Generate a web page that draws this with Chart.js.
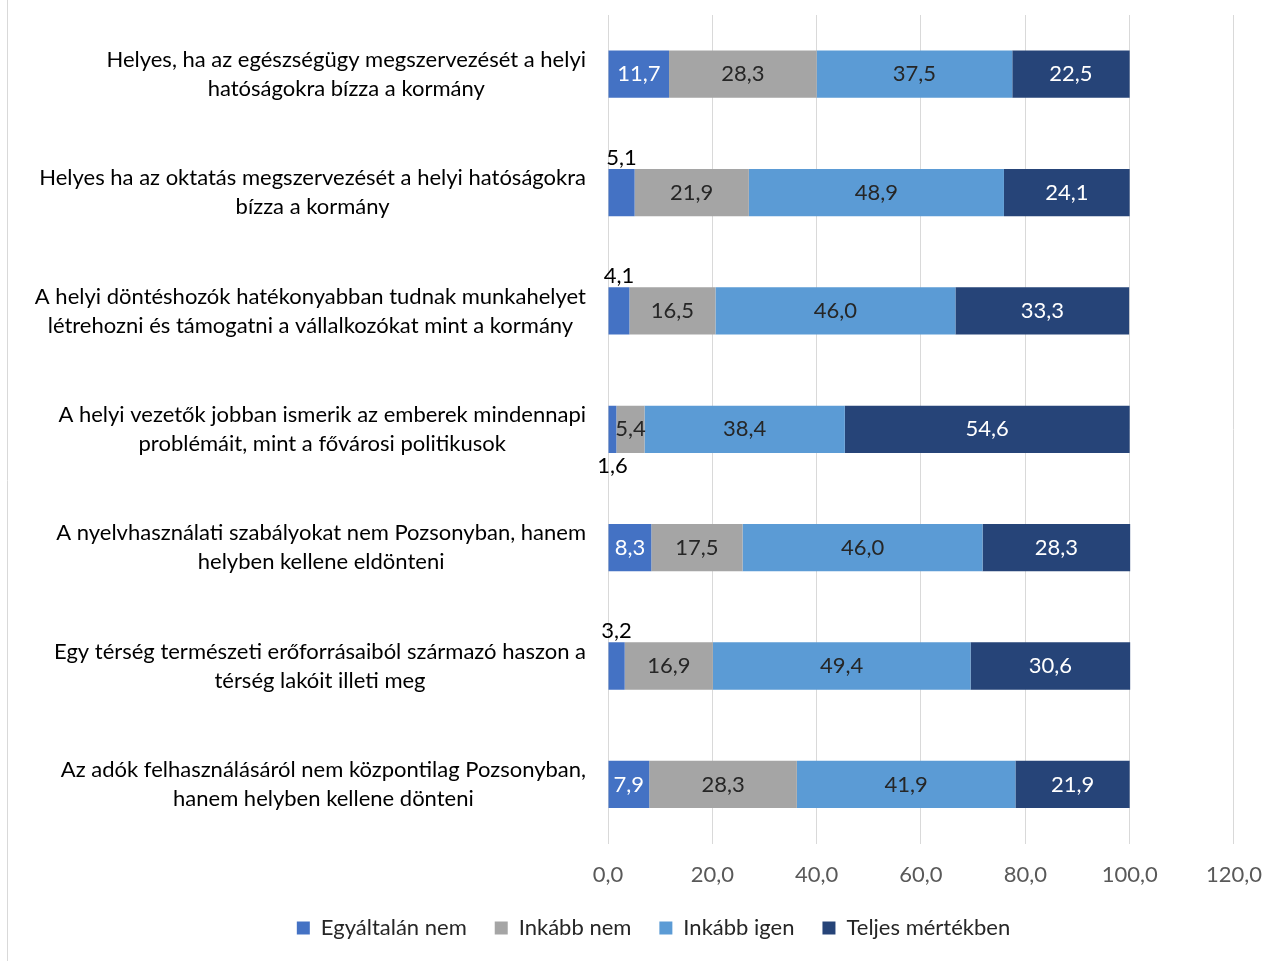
<!DOCTYPE html>
<html>
<head>
<meta charset="utf-8">
<script src="https://cdn.jsdelivr.net/npm/chart.js@4"></script>
<style>
  html, body { margin: 0; padding: 0; background: #fff; }
  #wrap { width: 1280px; height: 961px; position: relative; }
</style>
</head>
<body>
<div id="wrap"><canvas id="chart"></canvas></div>
<script>
// categories (each one split into its display lines)
const categories = [
  ["Helyes, ha az egészségügy megszervezését a helyi", "hatóságokra bízza a kormány"],
  ["Helyes ha az oktatás megszervezését a helyi hatóságokra", "bízza a kormány"],
  ["A helyi döntéshozók hatékonyabban tudnak munkahelyet", "létrehozni és támogatni a vállalkozókat mint a kormány"],
  ["A helyi vezetők jobban ismerik az emberek mindennapi", "problémáit, mint a fővárosi politikusok"],
  ["A nyelvhasználati szabályokat nem Pozsonyban, hanem", "helyben kellene eldönteni"],
  ["Egy térség természeti erőforrásaiból származó haszon a", "térség lakóit illeti meg"],
  ["Az adók felhasználásáról nem központilag Pozsonyban,", "hanem helyben kellene dönteni"]
]

const seriesNames = ["Egyáltalán nem", "Inkább nem", "Inkább igen", "Teljes mértékben"]
const egyaltalanNem = [11.7, 5.1, 4.1, 1.6, 8.3, 3.2, 7.9]
const inkabbNem = [28.3, 21.9, 16.5, 5.4, 17.5, 16.9, 28.3]
const inkabbIgen = [37.5, 48.9, 46.0, 38.4, 46.0, 49.4, 41.9]
const teljesen = [22.5, 24.1, 33.3, 54.6, 28.3, 30.6, 21.9]

const xTicks = [0, 20, 40, 60, 80, 100, 120]

const colors = ["#4472C4", "#A5A5A5", "#5B9BD5", "#264478"]
const labelColors = ["#ffffff", "#262626", "#262626", "#ffffff"]
const FONT = "Lato, 'Liberation Sans', sans-serif"

function fmt(v) {
  return v.toFixed(1).replace(".", ",")
}

// nudge the legend to where the original sits
const legendShift = {
  id: "legendShift",
  afterLayout(chart) {
    const lg = chart.legend
    lg.top -= 17
    lg.bottom -= 17
    lg.left += 36
    lg.right += 36
  }
}

// y category labels, centered lines, block right aligned to axis
const yLabelPlugin = {
  id: "yLabels",
  afterDraw(chart) {
    const ctx = chart.ctx
    const y = chart.scales.y
    ctx.save()
    ctx.font = "22px " + FONT
    ctx.fillStyle = "#000000"
    ctx.textAlign = "center"
    ctx.textBaseline = "middle"
    categories.forEach((lines, i) => {
      const cy = y.getPixelForTick(i)
      const w = Math.max(...lines.map((l) => ctx.measureText(l).width))
      const cx = chart.chartArea.left - 22 - w / 2
      const lh = 29
      lines.forEach((l, j) => {
        ctx.fillText(l, cx, cy + (j - (lines.length - 1) / 2) * lh)
      })
    })
    // thin frame line on the left
    ctx.strokeStyle = "#d9d9d9"
    ctx.lineWidth = 1
    ctx.beginPath()
    ctx.moveTo(7.5, 0)
    ctx.lineTo(7.5, chart.height)
    ctx.stroke()
    ctx.restore()
  }
}

// values written on the bars
const valueLabelPlugin = {
  id: "valueLabels",
  afterDatasetsDraw(chart) {
    const ctx = chart.ctx
    ctx.save()
    ctx.font = "22px " + FONT
    ctx.textAlign = "center"
    ctx.textBaseline = "middle"
    chart.data.datasets.forEach((ds, di) => {
      const meta = chart.getDatasetMeta(di)
      meta.data.forEach((bar, i) => {
        const v = ds.data[i]
        const left = Math.min(bar.x, bar.base)
        const right = Math.max(bar.x, bar.base)
        const cx = (left + right) / 2
        const half = bar.height / 2
        if (di === 0 && v < 6) {
          ctx.fillStyle = "#000000"
          const below = i === 3
          const ty = below ? bar.y + half + 13 : bar.y - half - 11
          ctx.fillText(fmt(v), cx, ty)
        } else {
          ctx.fillStyle = labelColors[di]
          ctx.fillText(fmt(v), cx, bar.y)
        }
      })
    })
    ctx.restore()
  }
}

const data = [egyaltalanNem, inkabbNem, inkabbIgen, teljesen]

new Chart(document.getElementById("chart"), {
  type: "bar",
  data: {
    labels: categories.map((c) => c.join(" ")),
    datasets: data.map((d, i) => ({
      label: seriesNames[i],
      data: d,
      backgroundColor: colors[i],
      borderWidth: 0,
      categoryPercentage: 1,
      barPercentage: 0.4
    }))
  },
  options: {
    indexAxis: "y",
    responsive: true,
    maintainAspectRatio: false,
    animation: false,
    layout: { padding: { top: 15, right: 45, bottom: -5, left: 0 } },
    plugins: {
      legend: {
        position: "bottom",
        labels: {
          boxWidth: 13,
          boxHeight: 13,
          padding: 28,
          color: "#262626",
          font: { family: FONT, size: 22 }
        }
      },
      tooltip: { enabled: false }
    },
    scales: {
      x: {
        stacked: true,
        min: 0,
        max: 120,
        afterBuildTicks: (s) => { s.ticks = xTicks.map((v) => ({ value: v })) },
        grid: { color: "#d9d9d9", drawTicks: false },
        border: { display: false },
        ticks: {
          padding: 18,
          color: "#595959",
          font: { family: FONT, size: 22 },
          callback: (v) => fmt(v)
        }
      },
      y: {
        stacked: true,
        afterFit: (s) => { s.width = 608 },
        grid: { display: false, drawTicks: false },
        border: { display: true, color: "#d9d9d9" },
        ticks: { display: false }
      }
    }
  },
  plugins: [legendShift, yLabelPlugin, valueLabelPlugin]
})
</script>
</body>
</html>
